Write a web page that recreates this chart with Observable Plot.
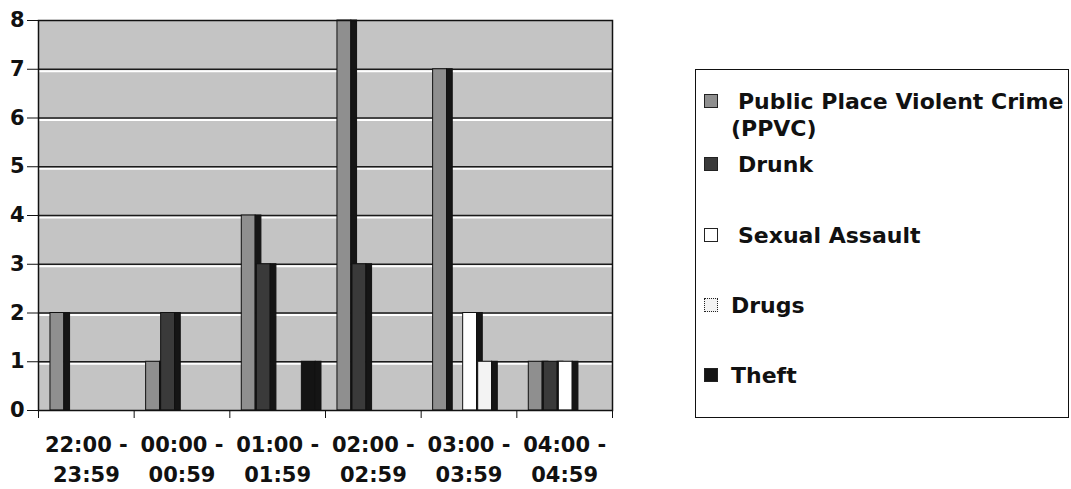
<!DOCTYPE html>
<html>
<head>
<meta charset="utf-8">
<script src="https://cdn.jsdelivr.net/npm/d3@7"></script>
<script src="https://cdn.jsdelivr.net/npm/@observablehq/plot@0.6"></script>
<style>
  body { margin: 0; background: #fff; font-family: "DejaVu Sans", sans-serif; }
  #wrap { position: relative; width: 1071px; height: 489px; overflow: hidden; }
  #chart { position: absolute; left: 0; top: 0; }
  #legend { position: absolute; left: 695px; top: 69px; width: 374px; height: 349px;
            border: 1.5px solid #111; box-sizing: border-box; font-weight: bold; font-size: 22px; color: #111; }
  .sw { position: absolute; left: 8px; width: 14px; height: 14px; box-sizing: border-box; border: 1px solid #222; }
  .lab { position: absolute; left: 35px; white-space: nowrap; line-height: 27px; }
</style>
</head>
<body>
<div id="wrap">
  <div id="chart"></div>
  <div id="legend"></div>
</div>
<script>
// ---- data ----
const categories = ["22:00 -\n23:59", "00:00 -\n00:59", "01:00 -\n01:59", "02:00 -\n02:59", "03:00 -\n03:59", "04:00 -\n04:59"];
const series = ["Public Place Violent Crime (PPVC)", "Drunk", "Sexual Assault", "Drugs", "Theft"];
const ppvc          = [2, 1, 4, 8, 7, 1];
const drunk         = [0, 2, 3, 3, 0, 1];
const sexualAssault = [0, 0, 0, 0, 2, 1];
const drugs         = [0, 0, 0, 0, 1, 0];
const theft         = [0, 0, 1, 0, 0, 0];
const yTicks = [0, 1, 2, 3, 4, 5, 6, 7, 8];

// ---- styles ----
const colors = ["#8f8f8f", "#3a3a3a", "#ffffff", "#f3f3f3", "#141414"];
const values = [ppvc, drunk, sexualAssault, drugs, theft];
const groupStart = 0.125, slot = 0.157, faceW = 0.145, sideW = 0.06;

const rects = [];
series.forEach((s, si) => {
  values[si].forEach((v, ci) => {
    if (!v) return;
    const x1 = ci + groupStart + si * slot;
    rects.push({series: s, cat: ci, x1, x2: x1 + faceW, y: v, fill: colors[si]});
    rects.push({series: s, cat: ci, x1: x1 + faceW, x2: x1 + faceW + sideW, y: v, fill: "#151515"});
  });
});

const labels = categories.map((c, i) => ({label: c, x: i + 0.5}));

const chart = Plot.plot({
  width: 640,
  height: 489,
  marginLeft: 38,
  marginRight: 28,
  marginTop: 20,
  marginBottom: 79,
  style: {fontFamily: "DejaVu Sans", fontSize: "21px", fontWeight: "bold", color: "#111", background: "white"},
  x: {domain: [0, categories.length], ticks: d3.range(0, categories.length + 1), tickFormat: () => "", tickSize: 8, label: null},
  y: {domain: [0, 8], ticks: yTicks, tickSize: 11, tickPadding: 3, label: null},
  color: {type: "identity"},
  marks: [
    Plot.frame({fill: "#c4c4c4", stroke: "none"}),
    Plot.ruleY(yTicks.slice(1, -1), {stroke: "#ffffff", strokeWidth: 2, dy: 2}),
    Plot.ruleY(yTicks.slice(1, -1), {stroke: "#1a1a1a", strokeWidth: 1.6}),
    Plot.rectY(rects, {x1: "x1", x2: "x2", y: "y", fill: "fill", stroke: "#111", strokeWidth: 1}),
    Plot.text(labels, {x: "x", text: "label", frameAnchor: "bottom", lineAnchor: "top", dy: 20, lineHeight: 1.43, fill: "#111"}),
    Plot.frame({stroke: "#111", strokeWidth: 1.5})
  ]
});
document.getElementById("chart").appendChild(chart);

// ---- legend ----
const legendTops = [18, 81, 152, 222, 292];
const legendIndent = [7, 7, 7, 0, 0];
const legend = document.getElementById("legend");
series.forEach((s, i) => {
  const sw = document.createElement("div");
  sw.className = "sw";
  sw.style.top = (legendTops[i] + 6) + "px";
  sw.style.background = colors[i];
  if (i === 3) sw.style.borderStyle = "dotted";
  legend.appendChild(sw);
  const lab = document.createElement("div");
  lab.className = "lab";
  lab.style.top = legendTops[i] + "px";
  if (i === 0) {
    lab.innerHTML = '<span style="padding-left:7px">Public Place Violent Crime</span><br>(PPVC)';
  } else {
    lab.style.paddingLeft = legendIndent[i] + "px";
    lab.textContent = s;
  }
  legend.appendChild(lab);
});
</script>
</body>
</html>
